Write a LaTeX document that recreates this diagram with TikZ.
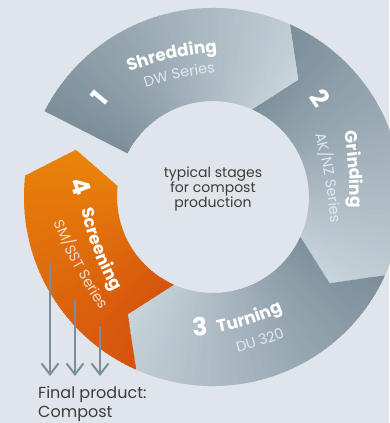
\documentclass[tikz,border=0pt]{standalone}
\usepackage{fontspec}
\setmainfont{Poppins}
\usetikzlibrary{decorations.text,arrows.meta}
\definecolor{bgc}{HTML}{DFE5EA}
\definecolor{grayD}{HTML}{7B8E9A}
\definecolor{grayL}{HTML}{CAD5DC}
\definecolor{orD}{HTML}{D4520E}
\definecolor{orL}{HTML}{EA850A}
\definecolor{subgray}{HTML}{E2E8EC}
\definecolor{suborange}{HTML}{FADCC8}
\definecolor{txtdark}{HTML}{3C3C3C}
\definecolor{arrowc}{HTML}{7B8F9B}
\def\Ro{189}
\def\Ri{96}
\def\Rm{145}
% start, end, dark, light, path
\newcommand\gradseg[5]{%
  \begin{scope}
    \clip #5;
    \pgfmathsetmacro\segspan{#1-#2+14}
    \foreach \i in {0,...,59}{
      \pgfmathsetmacro\angA{#1+1-\i*\segspan/60}
      \pgfmathsetmacro\angB{\angA-\segspan/60-0.5}
      \pgfmathtruncatemacro\pc{100*\i/59}
      \fill[#4!\pc!#3] (0,0) -- (\angA:200) arc[start angle=\angA, end angle=\angB, radius=200] -- cycle;
    }
  \end{scope}}
\newcommand\labfont{\fontsize{17}{17}\selectfont\bfseries\color{white}}
\newcommand\subfontg{\fontsize{14.5}{14.5}\selectfont\color{subgray}}
\newcommand\subfonto{\fontsize{14.5}{14.5}\selectfont\color{suborange}}
\tikzset{
  num/.style={font=\fontsize{25}{25}\selectfont\bfseries, text=white, inner sep=0pt},
  ctext/.style={font=\fontsize{14}{14}\selectfont, text=txtdark, anchor=base, inner sep=0pt},
  ftext/.style={font=\fontsize{16}{16}\selectfont, text=txtdark, anchor=base west, inner sep=0pt},
  outarrow/.style={draw=arrowc, line width=2pt, -{Straight Barb[length=11pt,width=17pt,line width=2pt]}}
}
\begin{document}
\begin{tikzpicture}[x=1pt,y=1pt]
\useasboundingbox (-213,-226) rectangle (176,197);
\fill[bgc] (-213,-226) rectangle (176,197);
% segment 2 Grinding
\gradseg{66}{-24.5}{grayD}{grayL}{(66:\Ro) arc[start angle=66, end angle=-24.5, radius=\Ro] -- (-36.5:\Rm) -- (-24.5:\Ri) arc[start angle=-24.5, end angle=66, radius=\Ri] -- (54:\Rm) -- cycle}
% segment 3 Turning
\gradseg{-24.5}{-114}{grayD}{grayL}{(-24.5:\Ro) arc[start angle=-24.5, end angle=-114, radius=\Ro] -- (-126:\Rm) -- (-114:\Ri) arc[start angle=-114, end angle=-24.5, radius=\Ri] -- (-36.5:\Rm) -- cycle}
% segment 4 Screening
\gradseg{-114}{-186.5}{orD}{orL}{(-114:\Ro) arc[start angle=-114, end angle=-186.5, radius=\Ro] -- (-199:\Rm) -- (-186.5:\Ri) arc[start angle=-186.5, end angle=-114, radius=\Ri] -- (-126:\Rm) -- cycle}
% segment 1 Shredding
\gradseg{153}{66}{grayD}{grayL}{(153:\Ro) arc[start angle=153, end angle=66, radius=\Ro] -- (54:\Rm) -- (66:\Ri) arc[start angle=66, end angle=153, radius=\Ri] -- cycle}
% labels along paths
\path[decorate, decoration={text along path, text align=center, text={|\labfont|Shredding}}] (-93,122) to[bend left=8] (14,146);
\path[decorate, decoration={text along path, text align=center, text={|\subfontg|DW Series}}] (-88,103) to[bend left=7] (24,127);
\path[decorate, decoration={text along path, text align=center, text={|\labfont|Grinding}}] (131,68) to[bend left=5] (137,-14);
\path[decorate, decoration={text along path, text align=center, text={|\subfontg|AK/NZ Series}}] (97,82) to[bend left=6] (119,-46);
\path[decorate, decoration={text along path, text align=center, text={|\labfont|Turning}}] (2,-136) to[bend right=6] (73,-113);
\path[decorate, decoration={text along path, text align=center, text={|\subfontg|DU 320}}] (8,-160) to[bend right=5] (88,-133);
\path[decorate, decoration={text along path, text align=center, text={|\labfont|Screening}}] (-132.6,-9.2) to[bend right=7] (-98.6,-98.2);
\path[decorate, decoration={text along path, text align=center, text={|\subfonto|SM/SST Series}}] (-167,-5) to[bend right=8] (-99,-131);
% numbers
\node[num, rotate=50] (n1) at (-113,99) {1};
\node[num, rotate=-55] (n2) at (107,99) {2};
\node[num, rotate=5] (n3) at (-13,-130) {3};
\node[num, rotate=-70] (n4) at (-132,11) {4};
% centre text
\node[ctext] (c1) at (0,19) {typical stages};
\node[ctext] (c2) at (0,4) {for compost};
\node[ctext] (c3) at (0,-11) {production};
% output arrows
\coordinate (a1s) at (-163,-65);
\coordinate (a1e) at (-163,-179);
\coordinate (a2s) at (-138,-103);
\coordinate (a2e) at (-138,-179);
\coordinate (a3s) at (-113,-129);
\coordinate (a3e) at (-113,-179);
\draw[outarrow] (a1s) -- (a1e);
\draw[outarrow] (a2s) -- (a2e);
\draw[outarrow] (a3s) -- (a3e);
\node[ftext] (f1) at (-175,-201) {Final product:};
\node[ftext] (f2) at (-175,-220) {Compost};
\end{tikzpicture}
\end{document}
